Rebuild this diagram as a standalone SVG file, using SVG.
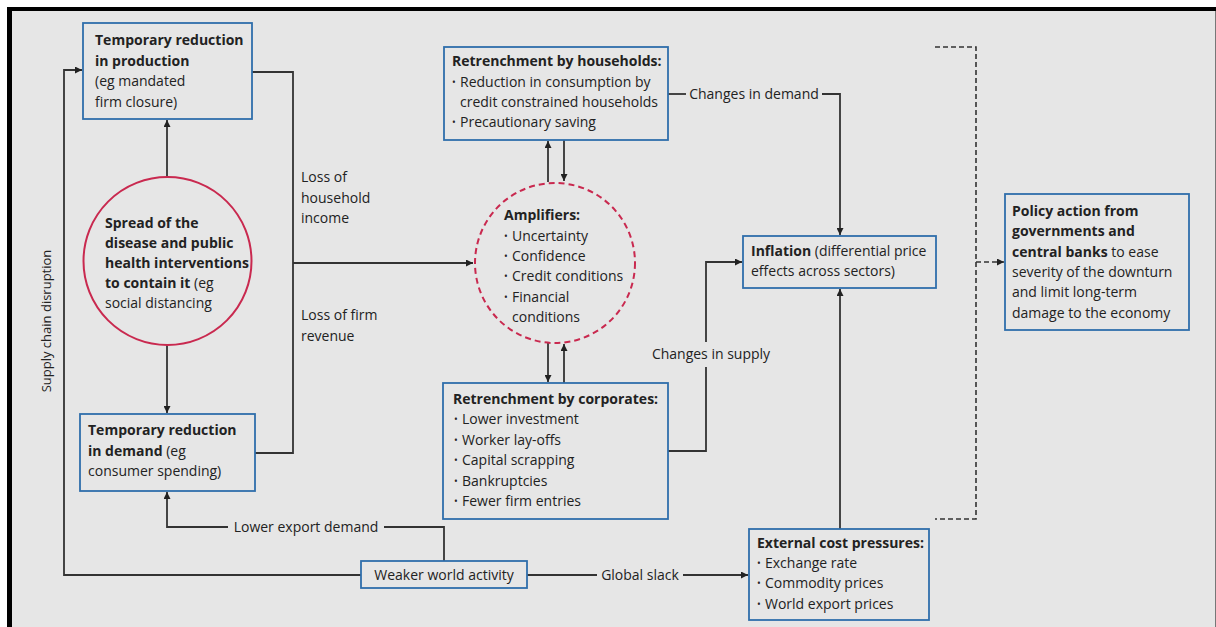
<svg xmlns="http://www.w3.org/2000/svg" width="1216" height="627" viewBox="0 0 1216 627">
<defs>
<style>
text{font-family:"Open Sans","Noto Sans",sans-serif;font-size:14px;fill:#222;}
.b{font-weight:bold;}
.bu{font-size:10px;}
.box{fill:none;stroke:#2f6eab;stroke-width:1.8;}
.ln{fill:none;stroke:#333;stroke-width:1.8;}
.dash{fill:none;stroke:#333;stroke-width:1.6;stroke-dasharray:5 3;}
.mid{text-anchor:middle;}
</style>
<marker id="ah" viewBox="0 0 10 10" refX="10" refY="5" markerWidth="9" markerHeight="7" markerUnits="userSpaceOnUse" orient="auto">
<path d="M0,0 L10,5 L0,10 z" fill="#222"/>
</marker>
</defs>
<rect x="0" y="0" width="1216" height="627" fill="#fff"/>
<rect x="12" y="11" width="1204" height="616" fill="#e6e6e6"/>
<rect x="7" y="7" width="1209" height="4" fill="#000"/>
<rect x="7" y="7" width="5" height="620" fill="#000"/>
<line x1="1215.5" y1="11" x2="1215.5" y2="627" stroke="#777" stroke-width="1"/>

<g id="connectors">
<path class="ln" d="M167,177 V120" marker-end="url(#ah)"/>
<path class="ln" d="M167,345 V413" marker-end="url(#ah)"/>
<path class="ln" d="M252,72 H293 V453 H255"/>
<path class="ln" d="M293,263 H473" marker-end="url(#ah)"/>
<path class="ln" d="M361,575 H64 V70 H82" marker-end="url(#ah)"/>
<path class="ln" d="M444,561 V527 H384"/>
<path class="ln" d="M228,527 H167 V492" marker-end="url(#ah)"/>
<path class="ln" d="M527,575 H597"/>
<path class="ln" d="M683,575 H748" marker-end="url(#ah)"/>
<path class="ln" d="M548,182 V141" marker-end="url(#ah)"/>
<path class="ln" d="M564,140 V181" marker-end="url(#ah)"/>
<path class="ln" d="M548,343 V382" marker-end="url(#ah)"/>
<path class="ln" d="M564,383 V344" marker-end="url(#ah)"/>
<path class="ln" d="M668,94 H686"/>
<path class="ln" d="M822,94 H840 V235" marker-end="url(#ah)"/>
<path class="ln" d="M668,451 H706 V367"/>
<path class="ln" d="M706,342 V262 H742" marker-end="url(#ah)"/>
<path class="ln" d="M840,529 V289" marker-end="url(#ah)"/>
<path class="dash" d="M935,47 H976 V519 H935"/>
<path class="dash" d="M976,262 H1004" marker-end="url(#ah)"/>
<text x="301" y="182">Loss of</text>
<text x="301" y="203">household</text>
<text x="301" y="223">income</text>
<text x="301" y="320">Loss of firm</text>
<text x="301" y="341">revenue</text>
<text class="mid" x="754" y="99">Changes in demand</text>
<text class="mid" x="711" y="359">Changes in supply</text>
<text class="mid" x="306" y="532">Lower export demand</text>
<text class="mid" x="640" y="580">Global slack</text>
<text class="mid" style="font-size:13px" transform="translate(51,321) rotate(-90)">Supply chain disruption</text>
</g>

<g id="production">
<rect class="box" x="83" y="23" width="169" height="96"/>
<text class="b" x="95" y="45">Temporary reduction</text>
<text class="b" x="95" y="66">in production</text>
<text x="95" y="86">(eg mandated</text>
<text x="95" y="107">firm closure)</text>
</g>

<g id="spread">
<circle cx="167.5" cy="261" r="84" fill="none" stroke="#c9294f" stroke-width="2"/>
<text class="b" x="105" y="228">Spread of the</text>
<text class="b" x="105" y="248">disease and public</text>
<text class="b" x="105" y="268">health interventions</text>
<text x="105" y="288"><tspan class="b">to contain it</tspan> (eg</text>
<text x="105" y="308">social distancing</text>
</g>

<g id="demand">
<rect class="box" x="80" y="414" width="175" height="77"/>
<text class="b" x="88" y="435">Temporary reduction</text>
<text x="88" y="456"><tspan class="b">in demand</tspan> (eg</text>
<text x="88" y="476">consumer spending)</text>
</g>

<g id="households">
<rect class="box" x="444" y="47" width="224" height="93"/>
<text class="b" x="452" y="66">Retrenchment by households:</text>
<text class="bu" x="452" y="86">•</text><text x="460" y="87">Reduction in consumption by</text>
<text x="460" y="107">credit constrained households</text>
<text class="bu" x="452" y="126">•</text><text x="460" y="127">Precautionary saving</text>
</g>

<g id="amplifiers">
<circle cx="555" cy="263" r="80" fill="none" stroke="#c9294f" stroke-width="2" stroke-dasharray="6 4"/>
<text class="b" x="504" y="220">Amplifiers:</text>
<text class="bu" x="504" y="240">•</text><text x="512" y="241">Uncertainty</text>
<text class="bu" x="504" y="260">•</text><text x="512" y="261">Confidence</text>
<text class="bu" x="504" y="280">•</text><text x="512" y="281">Credit conditions</text>
<text class="bu" x="504" y="301">•</text><text x="512" y="302">Financial</text>
<text x="512" y="322">conditions</text>
</g>

<g id="corporates">
<rect class="box" x="443" y="383" width="225" height="136"/>
<text class="b" x="453" y="404">Retrenchment by corporates:</text>
<text class="bu" x="454" y="423">•</text><text x="462" y="424">Lower investment</text>
<text class="bu" x="454" y="444">•</text><text x="462" y="445">Worker lay-offs</text>
<text class="bu" x="454" y="464">•</text><text x="462" y="465">Capital scrapping</text>
<text class="bu" x="454" y="485">•</text><text x="462" y="486">Bankruptcies</text>
<text class="bu" x="454" y="505">•</text><text x="462" y="506">Fewer firm entries</text>
</g>

<g id="inflation">
<rect class="box" x="743" y="236" width="193" height="52"/>
<text x="751" y="256"><tspan class="b">Inflation</tspan> (differential price</text>
<text x="751" y="276">effects across sectors)</text>
</g>

<g id="policy">
<rect class="box" x="1005" y="194" width="184" height="136"/>
<text class="b" x="1012" y="216">Policy action from</text>
<text class="b" x="1012" y="236">governments and</text>
<text x="1012" y="257"><tspan class="b">central banks</tspan> to ease</text>
<text x="1012" y="277">severity of the downturn</text>
<text x="1012" y="297">and limit long-term</text>
<text x="1012" y="318">damage to the economy</text>
</g>

<g id="weaker">
<rect class="box" x="361" y="561" width="166" height="27"/>
<text class="mid" x="444" y="580">Weaker world activity</text>
</g>

<g id="external">
<rect class="box" x="749" y="529" width="180" height="91"/>
<text class="b" x="757" y="548">External cost pressures:</text>
<text class="bu" x="757" y="567">•</text><text x="765" y="568">Exchange rate</text>
<text class="bu" x="757" y="587">•</text><text x="765" y="588">Commodity prices</text>
<text class="bu" x="757" y="608">•</text><text x="765" y="609">World export prices</text>
</g>
</svg>
